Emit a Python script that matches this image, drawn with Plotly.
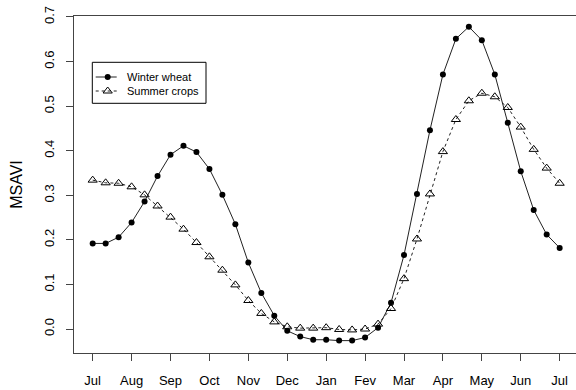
import plotly.graph_objects as go

month_labels = ["Jul", "Aug", "Sep", "Oct", "Nov", "Dec", "Jan", "Fev", "Mar", "Apr", "May", "Jun", "Jul"]
winter_wheat = [0.192, 0.192, 0.206, 0.239, 0.286, 0.343, 0.391, 0.411, 0.397, 0.359, 0.301, 0.235,
                0.149, 0.081, 0.030, -0.004, -0.017, -0.024, -0.024, -0.026, -0.026, -0.019, 0.003,
                0.059, 0.166, 0.303, 0.446, 0.571, 0.651, 0.678, 0.648, 0.571, 0.463, 0.354, 0.267,
                0.212, 0.182]
summer_crops = [0.334, 0.328, 0.327, 0.319, 0.301, 0.276, 0.251, 0.224, 0.194, 0.162, 0.132, 0.099,
                0.064, 0.035, 0.016, 0.005, 0.002, 0.002, 0.003, -0.001, -0.002, 0.000, 0.011,
                0.046, 0.113, 0.202, 0.303, 0.398, 0.470, 0.512, 0.529, 0.521, 0.497, 0.453, 0.403,
                0.361, 0.327]
y_ticks = [0.0, 0.1, 0.2, 0.3, 0.4, 0.5, 0.6, 0.7]
series_names = ["Winter wheat", "Summer crops"]

x = list(range(len(winter_wheat)))
tick_pos = [i * 3 for i in range(len(month_labels))]

LINE = "#222222"
wheat_line = dict(color=LINE, width=1)
crops_line = dict(color=LINE, width=1, dash="dot")
wheat_marker = dict(symbol="circle", size=6, color="black")
crops_marker = dict(symbol="triangle-up-open", size=8, color="black", line=dict(width=1))

fig = go.Figure()
fig.add_trace(go.Scatter(x=x, y=winter_wheat, mode="lines+markers", name=series_names[0],
                         line=wheat_line, marker=wheat_marker, showlegend=False))
fig.add_trace(go.Scatter(x=x, y=summer_crops, mode="lines+markers", name=series_names[1],
                         line=crops_line, marker=crops_marker, showlegend=False))

# --- hand-drawn legend box (R style) on an overlay axis in pixel units ---
leg_rows = [77, 91]
fig.add_trace(go.Scatter(x=[95.7, 116.7], y=[leg_rows[0]] * 2, mode="lines", line=wheat_line,
                         xaxis="x2", yaxis="y2", hoverinfo="skip", showlegend=False))
fig.add_trace(go.Scatter(x=[107.7], y=[leg_rows[0]], mode="markers", marker=wheat_marker,
                         xaxis="x2", yaxis="y2", hoverinfo="skip", showlegend=False))
fig.add_trace(go.Scatter(x=[95.7, 116.7], y=[leg_rows[1]] * 2, mode="lines", line=crops_line,
                         xaxis="x2", yaxis="y2", hoverinfo="skip", showlegend=False))
fig.add_trace(go.Scatter(x=[107.7], y=[leg_rows[1]], mode="markers", marker=crops_marker,
                         xaxis="x2", yaxis="y2", hoverinfo="skip", showlegend=False))
fig.add_shape(type="rect", xref="x2", yref="y2", x0=92.3, x1=206, y0=62.3, y1=103.3,
              line=dict(color="black", width=1), fillcolor="rgba(0,0,0,0)")
for name, yy in zip(series_names, leg_rows):
    fig.add_annotation(x=125, y=yy, xref="x2", yref="y2", text=name, showarrow=False,
                       xanchor="left", yanchor="middle",
                       font=dict(family="Liberation Sans, Arial, sans-serif", size=11, color="black"))

font = dict(family="Liberation Sans, Arial, sans-serif", size=13, color="black")
fig.update_layout(
    width=576, height=390,
    margin=dict(l=74, r=0, t=16, b=37),
    paper_bgcolor="white", plot_bgcolor="white",
    font=font,
    showlegend=False,
    xaxis2=dict(overlaying="x", range=[74, 576], visible=False, fixedrange=True),
    yaxis2=dict(overlaying="y", range=[353, 16], visible=False, fixedrange=True),
)
fig.layout.xaxis.update(
    range=[-1.44, 37.26], tickvals=tick_pos, ticktext=month_labels,
    showgrid=False, zeroline=False, showline=True, linecolor="#444444", linewidth=1,
    mirror=True, ticks="outside", ticklen=7, tickcolor="#444444",
    ticklabelstandoff=8, automargin=False,
)
fig.layout.yaxis.update(
    range=[-0.0538, 0.7022], tickvals=y_ticks, tickformat=".1f",
    showgrid=False, zeroline=False, showline=True, linecolor="#444444", linewidth=1,
    ticks="outside", ticklen=7, tickcolor="#444444", tickangle=-90,
    ticklabelstandoff=7, automargin=False,
    title=dict(text="MSAVI", standoff=15),
)

fig.write_html("out.html",
               config={"displayModeBar": False},
               post_script="document.body.style.margin='0px';document.body.style.overflow='hidden';")
